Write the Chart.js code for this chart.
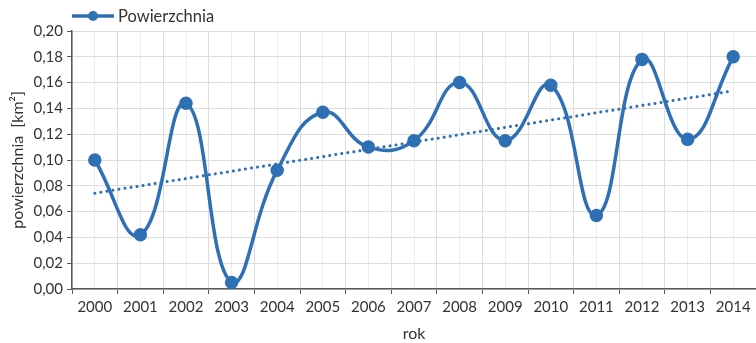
<!DOCTYPE html>
<html>
<head>
<meta charset="utf-8">
<script src="https://cdn.jsdelivr.net/npm/chart.js@4"></script>
<style>
  html, body { margin: 0; padding: 0; background: #fff; }
  #wrap { width: 756px; height: 343px; }
</style>
</head>
<body>
<div id="wrap"><canvas id="chart"></canvas></div>
<script>
const years = ["2000", "2001", "2002", "2003", "2004", "2005", "2006", "2007",
  "2008", "2009", "2010", "2011", "2012", "2013", "2014"];
const area = [0.100, 0.042, 0.144, 0.005, 0.092, 0.137, 0.110, 0.115,
  0.160, 0.115, 0.158, 0.057, 0.178, 0.116, 0.180];
const yTicks = { min: 0, max: 0.2, step: 0.02 };

const blue = "#2e70b3";
const textColor = "#333";
const fontFamily = "Lato, 'Open Sans', sans-serif";

// linear trend (least squares) over the series
const n = area.length;
const meanX = (n - 1) / 2;
const meanY = area.reduce((a, b) => a + b, 0) / n;
let sxy = 0, sxx = 0;
area.forEach((v, i) => { sxy += (i - meanX) * (v - meanY); sxx += (i - meanX) ** 2; });
const slope = sxy / sxx;
const trend = area.map((v, i) => meanY + slope * (i - meanX));

const legendPlugin = {
  id: "lineLegend",
  afterDraw(chart) {
    const ctx = chart.ctx;
    const x0 = chart.chartArea.left;
    const y = 16;
    ctx.save();
    ctx.strokeStyle = blue;
    ctx.lineWidth = 3.5;
    ctx.beginPath();
    ctx.moveTo(x0, y);
    ctx.lineTo(x0 + 42, y);
    ctx.stroke();
    ctx.fillStyle = blue;
    ctx.beginPath();
    ctx.arc(x0 + 21, y, 5, 0, Math.PI * 2);
    ctx.fill();
    ctx.fillStyle = textColor;
    ctx.font = "16.5px " + fontFamily;
    ctx.textBaseline = "middle";
    ctx.fillText("Powierzchnia", x0 + 46, y + 1);
    ctx.restore();
  }
};

new Chart(document.getElementById("chart").getContext("2d"), {
  type: "line",
  data: {
    labels: years,
    datasets: [
      {
        label: "Powierzchnia",
        data: area,
        borderColor: blue,
        backgroundColor: blue,
        borderWidth: 3.5,
        pointRadius: 5,
        pointHoverRadius: 5,
        tension: 0.45,
        fill: false,
        clip: false,
      },
      {
        label: "Trend",
        data: trend,
        borderColor: blue,
        borderWidth: 3,
        borderDash: [0.1, 6],
        borderCapStyle: "round",
        pointRadius: 0,
        tension: 0,
        fill: false,
      },
    ],
  },
  options: {
    responsive: true,
    maintainAspectRatio: false,
    animation: false,
    layout: { autoPadding: false, padding: { top: 31, right: 0, left: 0, bottom: 0 } },
    plugins: {
      legend: { display: false },
      tooltip: { enabled: false },
    },
    scales: {
      x: {
        type: "category",
        offset: true,
        afterFit: (s) => { s.height = 54; s.paddingLeft = 0; s.paddingRight = 0; },
        grid: {
          offset: true,
          color: "#dcdcdc",
          lineWidth: 1,
          tickColor: "#595959",
          tickLength: 5,
        },
        border: { color: "#595959", width: 1.5 },
        ticks: { color: textColor, font: { family: fontFamily, size: 15 }, padding: 4, maxRotation: 0 },
        title: {
          display: true,
          text: "rok",
          color: textColor,
          font: { family: fontFamily, size: 16 },
          padding: { top: 1, bottom: 0 },
        },
      },
      x2: {
        type: "category",
        position: "bottom",
        offset: true,
        display: true,
        afterFit: (s) => { s.height = 0; s.paddingLeft = 0; s.paddingRight = 0; },
        grid: { offset: false, color: "#ececec", lineWidth: 1, drawTicks: false },
        border: { display: false },
        ticks: { display: false },
      },
      y: {
        min: yTicks.min,
        max: yTicks.max,
        afterFit: (s) => { s.width = 72; },
        grid: {
          color: "#dcdcdc",
          lineWidth: 1,
          tickColor: "#595959",
          tickLength: 5,
        },
        border: { color: "#595959", width: 1.5 },
        ticks: {
          stepSize: yTicks.step,
          color: textColor,
          font: { family: fontFamily, size: 15 },
          padding: 4,
          callback: (v) => v.toFixed(2).replace(".", ","),
        },
        title: {
          display: true,
          text: "powierzchnia  [km²]",
          color: textColor,
          font: { family: fontFamily, size: 16 },
          padding: { top: 8, bottom: 0 },
        },
      },
    },
  },
  plugins: [legendPlugin],
});
</script>
</body>
</html>
